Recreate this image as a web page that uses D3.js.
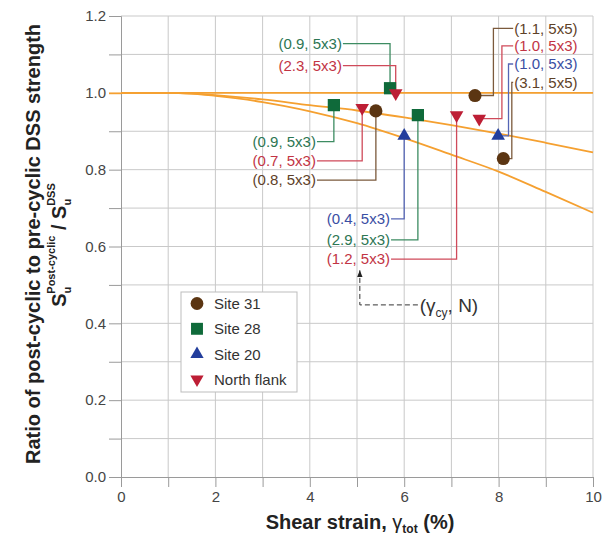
<!DOCTYPE html>
<html>
<head>
<meta charset="utf-8">
<script src="https://cdn.jsdelivr.net/npm/d3@7"></script>
<style>
  body { margin: 0; background: #fff; }
  text { font-family: "Liberation Sans", Arial, sans-serif; }
</style>
</head>
<body>
<div id="chart"></div>
<script>
// chart size
var chart_width = 611;
var chart_height = 536;

// data: [shear strain %, strength ratio]
var site31 = [[5.40, 0.953], [7.50, 0.993], [8.10, 0.829]];
var site28 = [[4.51, 0.968], [5.70, 1.012], [6.29, 0.942]];
var site20 = [[6.00, 0.888], [7.99, 0.888]];
var northFlank = [[5.11, 0.961], [5.82, 0.999], [7.11, 0.942], [7.59, 0.933]];

// (gamma_cy, N) labels for each point
var site31Labels = ['(0.8, 5x3)', '(1.1, 5x5)', '(3.1, 5x5)'];
var site28Labels = ['(0.9, 5x3)', '(0.9, 5x3)', '(2.9, 5x3)'];
var site20Labels = ['(0.4, 5x3)', '(1.0, 5x3)'];
var northFlankLabels = ['(0.7, 5x3)', '(2.3, 5x3)', '(1.2, 5x3)', '(1.0, 5x3)'];

// orange trend lines
var lineFlat = [[0, 1.0], [10, 1.0]];
var lineUpper = [[0, 1.0], [1, 1.0], [1.5, 0.998], [2, 0.994], [3, 0.983], [4, 0.968], [5, 0.954],
                 [6, 0.936], [7, 0.916], [8, 0.894], [9, 0.870], [10, 0.845]];
var lineLower = [[0, 1.0], [1, 1.0], [1.5, 0.998], [2, 0.992], [3, 0.976], [4, 0.952], [5, 0.921],
                 [6, 0.882], [7, 0.839], [8, 0.795], [9, 0.742], [10, 0.688]];

var xTicks = [0, 2, 4, 6, 8, 10];
var yTicks = [0, 0.2, 0.4, 0.6, 0.8, 1.0, 1.2];

var legendNames = ['Site 31', 'Site 28', 'Site 20', 'North flank'];

// styles per series
var series = [
    {name: 'Site 31', pts: site31, labels: site31Labels, sym: d3.symbolCircle, size: 135, rot: 0,
     fill: '#5b3512', line: '#7b5a3c', text: '#5e4128'},
    {name: 'Site 28', pts: site28, labels: site28Labels, sym: d3.symbolSquare, size: 150, rot: 0,
     fill: '#0f6a3a', line: '#3d8c62', text: '#2d7653'},
    {name: 'Site 20', pts: site20, labels: site20Labels, sym: d3.symbolTriangle, size: 80, rot: 0,
     fill: '#233e9c', line: '#5565b5', text: '#3a4ea3'},
    {name: 'North flank', pts: northFlank, labels: northFlankLabels, sym: d3.symbolTriangle, size: 80, rot: 180,
     fill: '#bd1e35', line: '#cf4a5a', text: '#c23444'}
];

// where each callout sits (data units): side 'up' = label above, line drops to point,
// 'down' = label below, line rises to point, 'right' = label right with elbow column
var callouts = [
    {s: 1, i: 1, side: 'up', lx: 4.68, ly: 1.128},
    {s: 3, i: 1, side: 'up', lx: 4.68, ly: 1.071},
    {s: 0, i: 1, side: 'right', lx: 8.33, ly: 1.168, col: 7.89},
    {s: 3, i: 3, side: 'right', lx: 8.33, ly: 1.122, col: 8.07},
    {s: 2, i: 1, side: 'right', lx: 8.33, ly: 1.075, col: 8.21},
    {s: 0, i: 2, side: 'right', lx: 8.33, ly: 1.027, col: 8.28},
    {s: 1, i: 0, side: 'down', lx: 4.13, ly: 0.873},
    {s: 3, i: 0, side: 'down', lx: 4.13, ly: 0.823},
    {s: 0, i: 0, side: 'down', lx: 4.13, ly: 0.773},
    {s: 2, i: 0, side: 'down', lx: 5.70, ly: 0.672},
    {s: 1, i: 2, side: 'down', lx: 5.70, ly: 0.617},
    {s: 3, i: 2, side: 'down', lx: 5.70, ly: 0.567}
];

var x = d3.scaleLinear().domain([0, 10]).range([121, 593]);
var y = d3.scaleLinear().domain([0, 1.2]).range([477, 16]);

var svg = d3.select('#chart')
            .append('svg')
            .attr('width', chart_width)
            .attr('height', chart_height);

// grid
svg.append('g').selectAll('line')
   .data(d3.range(1, 11))
   .enter()
   .append('line')
   .attr('x1', d => x(d)).attr('x2', d => x(d))
   .attr('y1', y(1.2)).attr('y2', y(0))
   .attr('stroke', '#c9c9c9').attr('stroke-width', 1);
svg.append('g').selectAll('line')
   .data(d3.range(1, 13).map(d => d / 10))
   .enter()
   .append('line')
   .attr('x1', x(0)).attr('x2', x(10))
   .attr('y1', d => y(d)).attr('y2', d => y(d))
   .attr('stroke', '#c9c9c9').attr('stroke-width', 1);

// axes
var xAxis = svg.append('g')
   .attr('transform', 'translate(0,' + y(0) + ')')
   .call(d3.axisBottom(x).tickValues(d3.range(0, 11)).tickSize(10).tickFormat(d => xTicks.indexOf(d) >= 0 ? d : ''));
var yAxis = svg.append('g')
   .attr('transform', 'translate(' + x(0) + ',0)')
   .call(d3.axisLeft(y).tickValues(d3.range(0, 13).map(d => d / 10)).tickSize(12)
         .tickFormat(d => yTicks.some(t => Math.abs(t - d) < 1e-9) ? d.toFixed(1) : ''));
[xAxis, yAxis].forEach(function(ax){
    ax.select('.domain').attr('stroke', '#9a9a9a');
    ax.selectAll('.tick line').attr('stroke', '#9a9a9a');
    ax.selectAll('.tick text').attr('fill', '#454545').style('font-size', '15px')
      .style('font-family', '"Liberation Sans", Arial, sans-serif');
});
xAxis.selectAll('.tick text').attr('dy', '0.95em').attr('y', 11);
yAxis.selectAll('.tick text').attr('x', -15);
yAxis.selectAll('.tick').filter(d => Math.abs(d - 1) < 1e-9).select('line')
     .attr('stroke', '#f5a030').attr('stroke-width', 1.8);

// orange lines
var line = d3.line().x(d => x(d[0])).y(d => y(d[1])).curve(d3.curveMonotoneX);
[lineFlat, lineUpper, lineLower].forEach(function(l){
    svg.append('path')
       .attr('d', line(l))
       .attr('fill', 'none')
       .attr('stroke', '#f5a030')
       .attr('stroke-width', 1.8);
});

// callouts
var gc = svg.append('g');
callouts.forEach(function(c){
    var s = series[c.s];
    var p = s.pts[c.i];
    var px = x(p[0]), py = y(p[1]);
    var lx = x(c.lx), ly = y(c.ly);
    var pts;
    if (c.side === 'right') {
        pts = [[lx - 1, ly], [x(c.col), ly], [x(c.col), py], [px, py]];
    } else {
        pts = [[lx + 1, ly], [px, ly], [px, py]];
    }
    gc.append('path')
      .attr('d', d3.line()(pts))
      .attr('fill', 'none')
      .attr('stroke', s.line)
      .attr('stroke-width', 1.3);
    gc.append('text')
      .attr('x', lx)
      .attr('y', ly)
      .attr('dy', '0.35em')
      .attr('text-anchor', c.side === 'right' ? 'start' : 'end')
      .attr('fill', s.text)
      .style('font-size', '15px')
      .text(s.labels[c.i]);
});

// markers
series.forEach(function(s){
    svg.append('g').selectAll('path')
       .data(s.pts)
       .enter()
       .append('path')
       .attr('d', d3.symbol().type(s.sym).size(s.size))
       .attr('transform', d => 'translate(' + x(d[0]) + ',' + y(d[1]) + ') rotate(' + s.rot + ')')
       .attr('fill', s.fill);
});

// (gamma_cy, N) key with dashed arrow
var ax0 = x(5.06), ay0 = y(0.448), ayTip = y(0.538);
svg.append('defs').append('marker')
   .attr('id', 'arrow').attr('viewBox', '0 0 10 10').attr('refX', 10).attr('refY', 5)
   .attr('markerWidth', 7).attr('markerHeight', 7).attr('orient', 'auto')
   .append('path').attr('d', 'M0,1 L10,5 L0,9 Z').attr('fill', '#222');
svg.append('path')
   .attr('d', d3.line()([[x(6.29), ay0], [ax0, ay0], [ax0, ayTip]]))
   .attr('fill', 'none').attr('stroke', '#333').attr('stroke-width', 1)
   .attr('stroke-dasharray', '5,3')
   .attr('marker-end', 'url(#arrow)');
var key = svg.append('text')
   .attr('x', x(6.33)).attr('y', ay0).attr('dy', '0.35em')
   .attr('fill', '#333').style('font-size', '19px');
key.append('tspan').text('(γ');
key.append('tspan').attr('dy', 5).style('font-size', '12px').text('cy');
key.append('tspan').attr('dy', -5).text(', N)');

// legend
var lg = svg.append('g').attr('transform', 'translate(181,292)');
lg.append('rect').attr('width', 116).attr('height', 100)
  .attr('fill', '#fff').attr('stroke', '#bdbdbd');
series.forEach(function(s, i){
    var row = lg.append('g').attr('transform', 'translate(0,' + (11.5 + i * 25.3) + ')');
    row.append('path')
       .attr('d', d3.symbol().type(s.sym).size(s.size * 0.95))
       .attr('transform', 'translate(16,0) rotate(' + s.rot + ')')
       .attr('fill', s.fill);
    row.append('text').attr('x', 33).attr('dy', '0.36em')
       .attr('fill', '#333').style('font-size', '15px').text(legendNames[i]);
});

// axis titles
var xt = svg.append('text')
   .attr('x', 360).attr('y', 529).attr('text-anchor', 'middle')
   .attr('fill', '#222').style('font-size', '20px').style('font-weight', 'bold');
xt.append('tspan').text('Shear strain, ');
xt.append('tspan').style('font-weight', 'normal').text('γ');
xt.append('tspan').attr('dy', 4).style('font-size', '12px').text('tot');
xt.append('tspan').attr('dy', -4).text(' (%)');

svg.append('text')
   .attr('transform', 'translate(40,244) rotate(-90)')
   .attr('text-anchor', 'middle')
   .attr('fill', '#222').style('font-size', '20px').style('font-weight', 'bold')
   .text('Ratio of post-cyclic to pre-cyclic DSS strength');

var yt = svg.append('text')
   .attr('transform', 'translate(66,245) rotate(-90)')
   .attr('text-anchor', 'middle')
   .attr('fill', '#222').style('font-size', '20px').style('font-weight', 'bold');
yt.append('tspan').text('S');
yt.append('tspan').attr('dy', 5).style('font-size', '11px').text('u');
yt.append('tspan').attr('dx', -7).attr('dy', -16).style('font-size', '11px').text('Post-cyclic');
yt.append('tspan').attr('dy', 11).text(' / S');
yt.append('tspan').attr('dy', 5).style('font-size', '11px').text('u');
yt.append('tspan').attr('dx', -7).attr('dy', -16).style('font-size', '11px').text('DSS');
</script>
</body>
</html>
